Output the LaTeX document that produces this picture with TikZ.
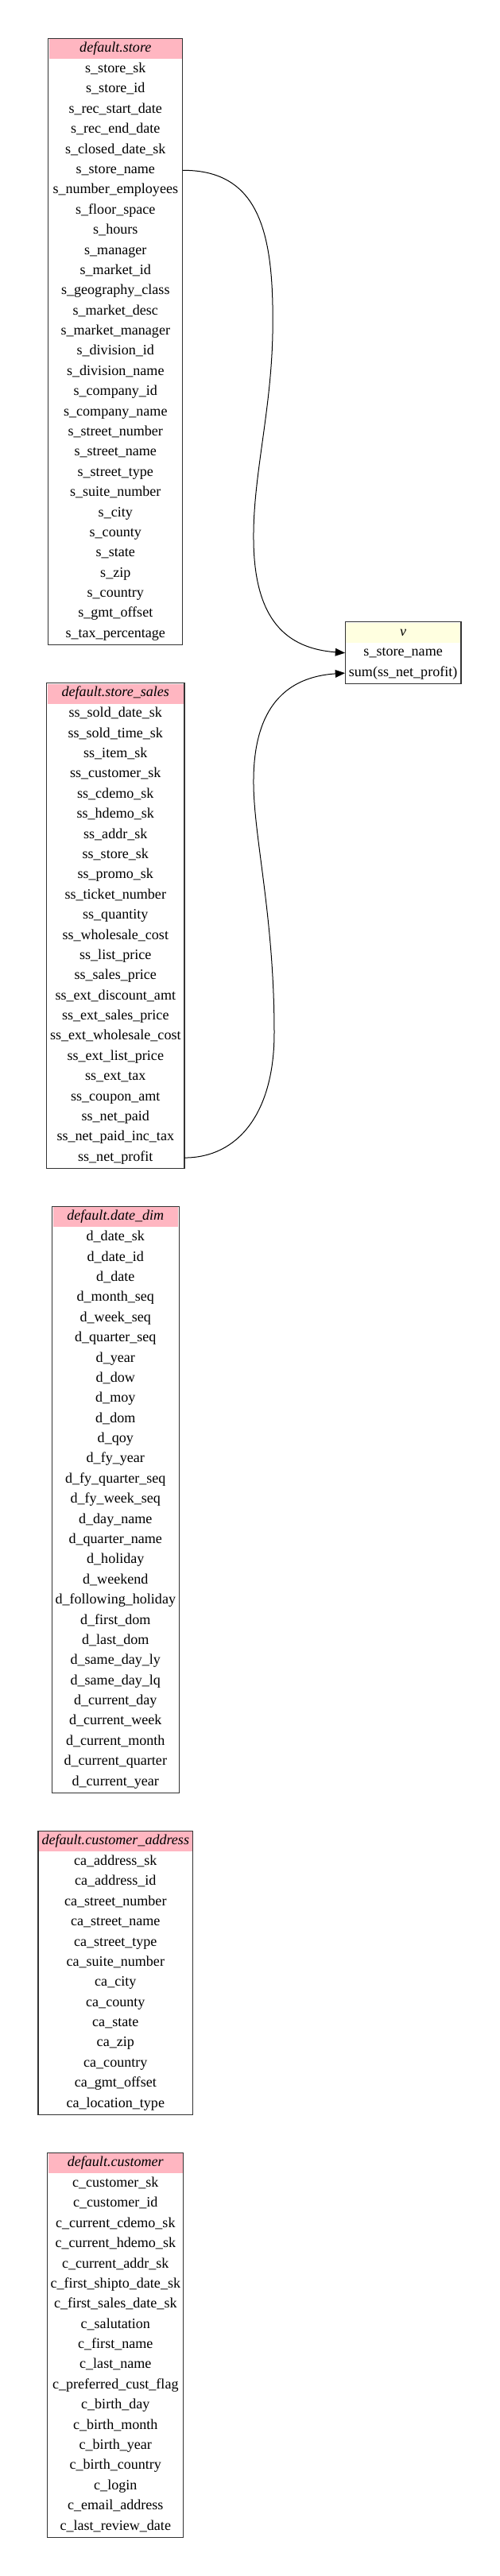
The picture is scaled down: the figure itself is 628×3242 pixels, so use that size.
\documentclass[tikz,border=0pt]{standalone}
\usepackage{fontspec}
\setmainfont{Liberation Serif}
\usetikzlibrary{arrows.meta,calc}
\def\u{0.775pt}
\definecolor{hdrpink}{HTML}{FFB6C1}
\definecolor{hdryellow}{HTML}{FFFFE0}
\definecolor{boxline}{HTML}{333333}
\tikzset{
  tablebox/.style={draw=boxline, line width=1.1*\u, fill=white, inner sep=0pt, rectangle},
  rowtext/.style={inner sep=0pt, minimum height=25.385*\u, text height=9.5pt, text depth=3pt, font=\fontsize{14pt}{17pt}\selectfont},
  headtext/.style={rowtext, font=\fontsize{14pt}{17pt}\selectfont\itshape},
  edge/.style={draw=black, line width=1*\u, -{Triangle[length=9.5pt,width=7.5pt]}}
}
\newcommand\dbtable[8]{%
  \node[tablebox, minimum width=#5*\u, minimum height={(27+#6*25.385)*\u}, anchor=north] (#1) at (#3,#4) {};
  \fill[#7] ($(#1.north west)+(1.6,1.6)$) rectangle ($(#1.north east)+(-1.6,26.6)$);
  \node[headtext, minimum width=#5*\u] (#1-h) at (#3,#4+13.8) {#2};
  \foreach \f [count=\i from 0] in {#8}
    \node[rowtext, minimum width=#5*\u] (#1-\i) at (#3,{#4+27+(\i+0.5)*25.385}) {\f};
}
\begin{document}
\begin{tikzpicture}[x=\u, y=-\u]
\useasboundingbox (0,0) rectangle (628,3242);
\dbtable{store}{default.store}{145.3}{47.7}{169}{29}{hdrpink}{s\_store\_sk, s\_store\_id, s\_rec\_start\_date, s\_rec\_end\_date, s\_closed\_date\_sk, s\_store\_name, s\_number\_employees, s\_floor\_space, s\_hours, s\_manager, s\_market\_id, s\_geography\_class, s\_market\_desc, s\_market\_manager, s\_division\_id, s\_division\_name, s\_company\_id, s\_company\_name, s\_street\_number, s\_street\_name, s\_street\_type, s\_suite\_number, s\_city, s\_county, s\_state, s\_zip, s\_country, s\_gmt\_offset, s\_tax\_percentage}
\dbtable{v}{v}{507.15}{782}{145.7}{2}{hdryellow}{s\_store\_name, sum(ss\_net\_profit)}
\dbtable{ss}{default.store\_sales}{145.3}{858.9}{173.3}{23}{hdrpink}{ss\_sold\_date\_sk, ss\_sold\_time\_sk, ss\_item\_sk, ss\_customer\_sk, ss\_cdemo\_sk, ss\_hdemo\_sk, ss\_addr\_sk, ss\_store\_sk, ss\_promo\_sk, ss\_ticket\_number, ss\_quantity, ss\_wholesale\_cost, ss\_list\_price, ss\_sales\_price, ss\_ext\_discount\_amt, ss\_ext\_sales\_price, ss\_ext\_wholesale\_cost, ss\_ext\_list\_price, ss\_ext\_tax, ss\_coupon\_amt, ss\_net\_paid, ss\_net\_paid\_inc\_tax, ss\_net\_profit}
\dbtable{dd}{default.date\_dim}{145.3}{1517.8}{159.7}{28}{hdrpink}{d\_date\_sk, d\_date\_id, d\_date, d\_month\_seq, d\_week\_seq, d\_quarter\_seq, d\_year, d\_dow, d\_moy, d\_dom, d\_qoy, d\_fy\_year, d\_fy\_quarter\_seq, d\_fy\_week\_seq, d\_day\_name, d\_quarter\_name, d\_holiday, d\_weekend, d\_following\_holiday, d\_first\_dom, d\_last\_dom, d\_same\_day\_ly, d\_same\_day\_lq, d\_current\_day, d\_current\_week, d\_current\_month, d\_current\_quarter, d\_current\_year}
\dbtable{ca}{default.customer\_address}{145.3}{2303.6}{194.7}{13}{hdrpink}{ca\_address\_sk, ca\_address\_id, ca\_street\_number, ca\_street\_name, ca\_street\_type, ca\_suite\_number, ca\_city, ca\_county, ca\_state, ca\_zip, ca\_country, ca\_gmt\_offset, ca\_location\_type}
\dbtable{cu}{default.customer}{145.3}{2708.6}{171}{18}{hdrpink}{c\_customer\_sk, c\_customer\_id, c\_current\_cdemo\_sk, c\_current\_hdemo\_sk, c\_current\_addr\_sk, c\_first\_shipto\_date\_sk, c\_first\_sales\_date\_sk, c\_salutation, c\_first\_name, c\_last\_name, c\_preferred\_cust\_flag, c\_birth\_day, c\_birth\_month, c\_birth\_year, c\_birth\_country, c\_login, c\_email\_address, c\_last\_review\_date}
\draw[edge] (store-5.east) .. controls (330,214) and (345,300) .. (343,420)
  .. controls (341,520) and (318,600) .. (319,680)
  .. controls (320,780) and (360,816) .. (v-0.west);
\draw[edge] (ss-22.east) .. controls (300,1457) and (345,1400) .. (345,1300)
  .. controls (345,1150) and (318,1050) .. (319,980)
  .. controls (320,890) and (360,852) .. (v-1.west);
\end{tikzpicture}
\end{document}
